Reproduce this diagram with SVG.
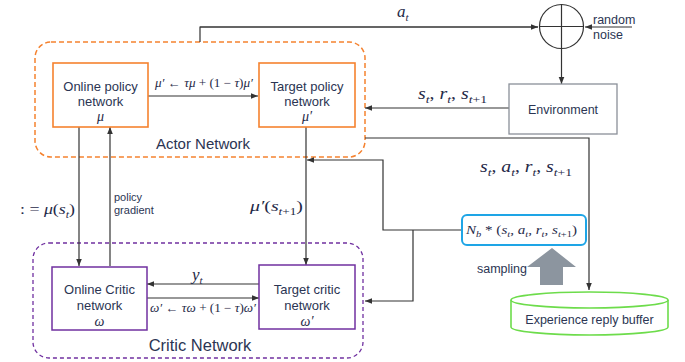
<svg xmlns="http://www.w3.org/2000/svg" width="685" height="362" viewBox="0 0 685 362">
<defs>
<marker id="ah" viewBox="0 0 10 10" refX="10" refY="5" markerWidth="7" markerHeight="7" orient="auto" markerUnits="userSpaceOnUse">
<path d="M0,1 L10,5 L0,9 z" fill="#333"/>
</marker>
<style>
.lbl{font-family:"Liberation Sans",Arial,sans-serif;fill:#2b3553;text-anchor:middle}
.m{font-family:"Liberation Serif","Times New Roman",serif;font-style:italic;fill:#1f2a48}
.up{font-style:normal}
.c{fill:none;stroke:#333;stroke-width:1.2}
.ca{fill:none;stroke:#333;stroke-width:1.2;marker-end:url(#ah)}
.ob{fill:#fff;stroke:#f5822f;stroke-width:1.6}
.pb{fill:#fff;stroke:#7030a0;stroke-width:1.5}
</style>
</defs>
<rect width="685" height="362" fill="#fff"/>

<g id="actor-group">
<rect x="35" y="42" width="330" height="115" rx="16" fill="none" stroke="#f5822f" stroke-width="1.5" stroke-dasharray="5,3"/>
<text class="lbl" x="203" y="149" font-size="15">Actor Network</text>
</g>
<g id="critic-group">
<rect x="33" y="243" width="330" height="115" rx="16" fill="none" stroke="#7030a0" stroke-width="1.3" stroke-dasharray="4,3"/>
<text class="lbl" x="200" y="351" font-size="16.5">Critic Network</text>
</g>

<g id="connectors">
<path class="c" d="M200,42 V27 H538"/>
<path class="ca" d="M200,27 H538"/>
<path class="ca" d="M632,27 H585"/>
<path class="ca" d="M561.5,48.5 V84"/>
<path class="ca" d="M509,108 H365"/>
<path class="ca" d="M365,138 H589 V290"/>
<path class="ca" d="M148,96 H258"/>
<path class="ca" d="M79,127 V266"/>
<path class="ca" d="M110,266 V127"/>
<path class="ca" d="M306,127 V265"/>
<path class="ca" d="M259,284 H147"/>
<path class="ca" d="M147,298 H259"/>
<path class="ca" d="M462,230 H383 V160 H307"/>
<path class="ca" d="M413,230 V301 H365"/>
</g>

<g id="sum">
<circle cx="561.5" cy="26.5" r="22" fill="none" stroke="#333" stroke-width="1.2"/>
<path d="M539.5,26.5 H583.5 M561.5,4.5 V48.5" stroke="#333" stroke-width="1.2"/>
</g>
<g id="noise-label">
<text class="lbl" x="593" y="24" font-size="12.5" style="text-anchor:start">random</text>
<text class="lbl" x="593" y="39" font-size="12.5" style="text-anchor:start">noise</text>
</g>

<g id="online-policy">
<rect class="ob" x="53" y="63" width="95" height="64"/>
<text class="lbl" x="100.5" y="91" font-size="13">Online policy</text>
<text class="lbl" x="100.5" y="106" font-size="13">network</text>
<text class="m" x="100.5" y="121" font-size="14" text-anchor="middle">μ</text>
</g>
<g id="target-policy">
<rect class="ob" x="259" y="63" width="96" height="64"/>
<text class="lbl" x="307" y="91" font-size="13">Target policy</text>
<text class="lbl" x="307" y="106" font-size="13">network</text>
<text class="m" x="307" y="121" font-size="14" text-anchor="middle">μ′</text>
</g>
<g id="environment">
<rect x="509" y="84" width="108" height="50" fill="#fff" stroke="#8a9099" stroke-width="1.3"/>
<text class="lbl" x="563" y="114" font-size="12.5">Environment</text>
</g>
<g id="online-critic">
<rect class="pb" x="52" y="267" width="95" height="63"/>
<text class="lbl" x="99.5" y="294" font-size="13">Online Critic</text>
<text class="lbl" x="99.5" y="310" font-size="13">network</text>
<text class="m" x="99.5" y="326" font-size="14" text-anchor="middle">ω</text>
</g>
<g id="target-critic">
<rect class="pb" x="259" y="265" width="96" height="64"/>
<text class="lbl" x="307" y="294" font-size="13">Target critic</text>
<text class="lbl" x="307" y="310" font-size="13">network</text>
<text class="m" x="307" y="326" font-size="14" text-anchor="middle">ω′</text>
</g>
<g id="sample-batch">
<rect x="462" y="215" width="124" height="30" rx="5" fill="#fff" stroke="#1ea5e6" stroke-width="2"/>
<text class="m" x="466" y="234" font-size="13" textLength="111" lengthAdjust="spacingAndGlyphs">N<tspan font-size="9" dy="3">b</tspan><tspan dy="-3" class="up"> * (</tspan>s<tspan font-size="9" dy="3">t</tspan><tspan dy="-3" class="up">, </tspan>a<tspan font-size="9" dy="3">t</tspan><tspan dy="-3" class="up">, </tspan>r<tspan font-size="9" dy="3">t</tspan><tspan dy="-3" class="up">, </tspan>s<tspan font-size="9" dy="3">t<tspan class="up">+1</tspan></tspan><tspan dy="-3" class="up">)</tspan></text>
</g>
<g id="sampling">
<polygon points="552,248 576,267 563,267 563,285 540,285 540,267 527,267" fill="#8c959f"/>
<text class="lbl" x="477" y="273" font-size="12.5" style="text-anchor:start">sampling</text>
</g>
<g id="buffer">
<path d="M511,300 V327 A78.5,8 0 0 0 668,327 V300" fill="#fff" stroke="#6ddc4b" stroke-width="1.6"/>
<ellipse cx="589.5" cy="300" rx="78.5" ry="8" fill="#fff" stroke="#6ddc4b" stroke-width="1.6"/>
<text class="lbl" x="589.5" y="324" font-size="12.5">Experience reply buffer</text>
</g>

<g id="labels">
<text class="m" x="397" y="17" font-size="17">a<tspan font-size="11" dy="4">t</tspan></text>
<text class="m" x="418" y="99" font-size="16" textLength="69" lengthAdjust="spacingAndGlyphs">s<tspan font-size="11" dy="4">t</tspan><tspan dy="-4" class="up">, </tspan>r<tspan font-size="11" dy="4">t</tspan><tspan dy="-4" class="up">, </tspan>s<tspan font-size="11" dy="4">t<tspan class="up">+1</tspan></tspan></text>
<text class="m" x="480" y="172" font-size="16" textLength="92" lengthAdjust="spacingAndGlyphs">s<tspan font-size="11" dy="4">t</tspan><tspan dy="-4" class="up">, </tspan>a<tspan font-size="11" dy="4">t</tspan><tspan dy="-4" class="up">, </tspan>r<tspan font-size="11" dy="4">t</tspan><tspan dy="-4" class="up">, </tspan>s<tspan font-size="11" dy="4">t<tspan class="up">+1</tspan></tspan></text>
<text class="m" x="155" y="87" font-size="12" textLength="98" lengthAdjust="spacingAndGlyphs">μ′ <tspan class="up">←</tspan> τμ <tspan class="up">+ (1 − </tspan>τ<tspan class="up">)</tspan>μ′</text>
<text class="m" x="150" y="312" font-size="12" textLength="106" lengthAdjust="spacingAndGlyphs">ω′ <tspan class="up">←</tspan> τω <tspan class="up">+ (1 − </tspan>τ<tspan class="up">)</tspan>ω′</text>
<text class="m" x="192" y="280" font-size="17">y<tspan font-size="11" dy="4">t</tspan></text>
<text class="m" x="250" y="211" font-size="15" textLength="53" lengthAdjust="spacingAndGlyphs">μ′<tspan class="up">(</tspan>s<tspan font-size="10" dy="4">t<tspan class="up">+1</tspan></tspan><tspan dy="-4" class="up">)</tspan></text>
<text class="m" x="20" y="214" font-size="15" textLength="55" lengthAdjust="spacingAndGlyphs"><tspan class="up">: = </tspan>μ<tspan class="up">(</tspan>s<tspan font-size="10" dy="4">t</tspan><tspan dy="-4" class="up">)</tspan></text>
<text class="lbl" x="114" y="201" font-size="11" style="text-anchor:start">policy</text>
<text class="lbl" x="114" y="214" font-size="11" style="text-anchor:start">gradient</text>
</g>
</svg>
